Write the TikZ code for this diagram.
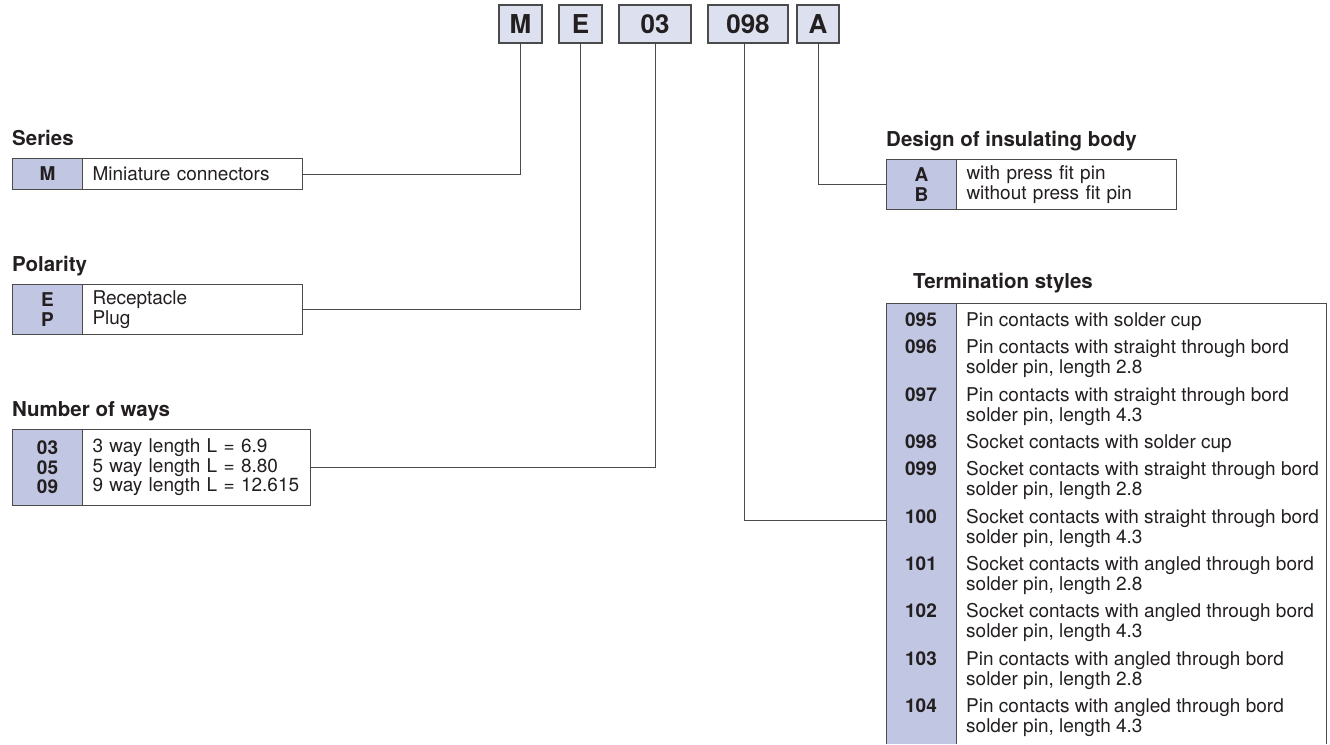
\documentclass[tikz,border=0pt]{standalone}
\usepackage{fontspec}
\setmainfont{TeX Gyre Heros}
\definecolor{codefill}{RGB}{193,199,226}
\definecolor{topfill}{RGB}{221,225,239}
\definecolor{edge}{RGB}{75,75,75}
\definecolor{ink}{RGB}{35,31,32}
\begin{document}
\begin{tikzpicture}[x=1pt,y=-1pt,
  topbox/.style={draw=edge,line width=1.4pt,fill=topfill,inner sep=0pt,text=ink,
    font=\fontsize{26}{26}\selectfont\bfseries,minimum height=38pt},
  codecol/.style={draw=edge,line width=1pt,fill=codefill,inner sep=0pt,anchor=north west,
    minimum width=70pt,align=center,text=ink,font=\fontsize{19}{19.5}\selectfont\bfseries},
  desccol/.style={draw=edge,line width=1pt,fill=white,inner xsep=10pt,inner ysep=0pt,anchor=north west,
    align=left,text=ink,font=\fontsize{19}{19.5}\selectfont},
  lbl/.style={anchor=base west,inner sep=0pt,text=ink,font=\fontsize{20.5}{21}\selectfont\bfseries},
  tcode/.style={anchor=base,inner sep=0pt,text=ink,font=\fontsize{19}{20.3}\selectfont\bfseries},
  tdesc/.style={anchor=base west,inner sep=0pt,text=ink,align=left,font=\fontsize{19}{20.3}\selectfont},
  wire/.style={draw=edge,line width=1pt}]
\useasboundingbox (0,0) rectangle (1330,744);
% top code boxes
\node[topbox,minimum width=43pt] (M) at (520.5,24) {M};
\node[topbox,minimum width=43pt] (E) at (580.5,24) {E};
\node[topbox,minimum width=72pt] (n03) at (655,24) {03};
\node[topbox,minimum width=80pt] (n098) at (748,24) {098};
\node[topbox,minimum width=42pt] (A) at (818,24) {A};
% Series
\node[lbl] (serlbl) at (12,145) {Series};
\node[codecol,minimum height=31pt] (sc) at (12,158) {M};
\node[desccol,text width=200pt,minimum height=31pt] (sd) at (82,158) {Miniature connectors};
% Polarity
\node[lbl] (pollbl) at (12,271) {Polarity};
\node[codecol,minimum height=50pt] (pc) at (12,284) {E\\P};
\node[desccol,text width=200pt,minimum height=50pt] (pd) at (82,284) {Receptacle\\Plug};
% Number of ways
\node[lbl] (nwlbl) at (12,416) {Number of ways};
\node[codecol,minimum height=76pt] (nc) at (12,429) {03\\05\\09};
\node[desccol,text width=208pt,minimum height=76pt] (nd) at (82,429) {3 way length L = 6.9\\5 way length L = 8.80\\9 way length L = 12.615};
% Design
\node[lbl] (dlbl) at (886,146) {Design of insulating body};
\node[codecol,minimum height=50pt] (dc) at (886,159) {A\\B};
\node[desccol,text width=200pt,minimum height=50pt] (dd) at (956,159) {with press fit pin\\without press fit pin};
% Termination
\node[lbl] (tlbl) at (913,288) {Termination styles};
\node[anchor=north west,inner sep=0pt,minimum width=440pt,minimum height=441pt] (term) at (886,303) {};
\fill[codefill] (term.north west) rectangle ([xshift=70pt]term.south west);
\draw[edge,line width=1pt] (term.south west) -- (term.north west) -- (term.north east) -- (term.south east);
\draw[edge,line width=1pt] ([xshift=70pt]term.north west) -- ([xshift=70pt]term.south west);
% codes (first-line baselines); descriptions anchored on their last line
\node[tcode] (c095) at (921,326) {095};
\node[tdesc] (d095) at (966,326) {Pin contacts with solder cup};
\node[tcode] (c096) at (921,353) {096};
\node[tdesc] (d096) at (966,373.3) {Pin contacts with straight through bord\\solder pin, length 2.8};
\node[tcode] (c097) at (921,401) {097};
\node[tdesc] (d097) at (966,421.3) {Pin contacts with straight through bord\\solder pin, length 4.3};
\node[tcode] (c098) at (921,448) {098};
\node[tdesc] (d098) at (966,448) {Socket contacts with solder cup};
\node[tcode] (c099) at (921,475) {099};
\node[tdesc] (d099) at (966,495.3) {Socket contacts with straight through bord\\solder pin, length 2.8};
\node[tcode] (c100) at (921,523) {100};
\node[tdesc] (d100) at (966,543.3) {Socket contacts with straight through bord\\solder pin, length 4.3};
\node[tcode] (c101) at (921,570) {101};
\node[tdesc] (d101) at (966,590.3) {Socket contacts with angled through bord\\solder pin, length 2.8};
\node[tcode] (c102) at (921,617) {102};
\node[tdesc] (d102) at (966,637.3) {Socket contacts with angled through bord\\solder pin, length 4.3};
\node[tcode] (c103) at (921,665) {103};
\node[tdesc] (d103) at (966,685.3) {Pin contacts with angled through bord\\solder pin, length 2.8};
\node[tcode] (c104) at (921,712) {104};
\node[tdesc] (d104) at (966,732.3) {Pin contacts with angled through bord\\solder pin, length 4.3};
\coordinate (tj) at (886,520);
% connectors
\draw[wire] (sd.east) -| (M.south);
\draw[wire] (pd.east) -| (E.south);
\draw[wire] (nd.east) -| (n03.south);
\draw[wire] (A.south) |- (dc.west);
\draw[wire] ([xshift=-4pt]n098.south) |- (tj);
\end{tikzpicture}
\end{document}
